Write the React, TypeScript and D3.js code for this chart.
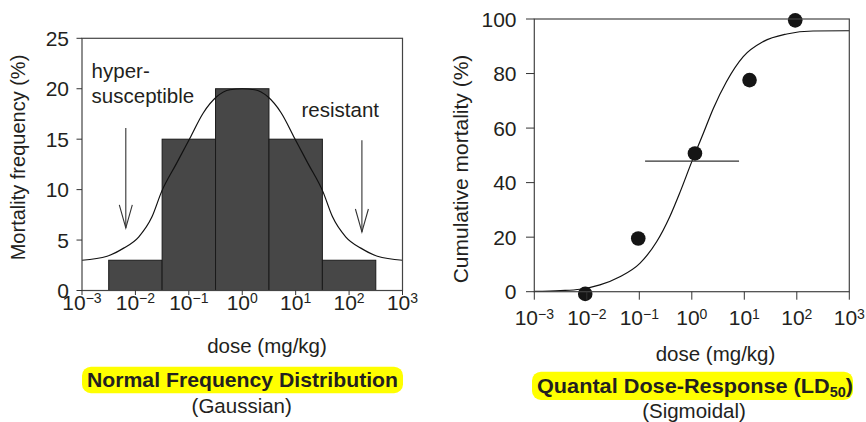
import React from 'react';
import * as d3 from 'd3';

// shared dose axis (log10 of mg/kg)
const decades = [-3, -2, -1, 0, 1, 2, 3];

// left: frequency histogram + gaussian curve
const binEdges = [-2.5, -1.5, -0.5, 0.5, 1.5, 2.5];
const binFreq = [3, 15, 20, 15, 3];
const gaussLog = [-3, -2.53, -2.22, -1.94, -1.69, -1.51, -1.23, -0.98, -0.73, -0.48, -0.23, 0,
  0.23, 0.48, 0.73, 0.98, 1.23, 1.51, 1.69, 1.94, 2.22, 2.53, 3];
const gaussVal = [3.0, 3.4, 4.2, 5.3, 7.3, 9.8, 12.6, 15.1, 17.6, 19.2, 19.9, 20,
  19.9, 19.2, 17.6, 15.1, 12.6, 9.8, 7.3, 5.3, 4.2, 3.4, 3.0];
const freqTicks = [0, 5, 10, 15, 20, 25];

// right: quantal dose-response
const doseLog = [-2.03, -1.02, 0.06, 1.1, 1.97];
const mortality = [-0.8, 19.5, 50.7, 77.6, 99.5];
const sigLog = [-3, -2.5, -2.13, -1.75, -1.37, -0.99, -0.67, -0.42, -0.22, 0, 0.22, 0.41, 0.66, 0.98, 1.36, 1.81, 2.31, 3];
const sigVal = [0.1, 0.4, 0.9, 2.5, 5.5, 10.4, 18.3, 27.5, 36.7, 47.7, 58.1, 67.2, 77, 86.2, 91.7, 94.5, 95.6, 95.7];
const mortTicks = [0, 20, 40, 60, 80, 100];
const ld50Span = [-0.89, 0.9];
const ld50Level = 47.9;

const FONT = '"Liberation Sans", Arial, Helvetica, sans-serif';
const INK = '#231f20';

const pow = (v: number) => Math.pow(10, v);
const supLabel = (d: number) => (d < 0 ? '\u2212' + -d : String(d));

export default function App() {
  // left panel scales
  const xL = d3.scaleLog().domain([1e-3, 1e3]).range([82, 402.5]);
  const yL = d3.scaleLinear().domain([0, 25]).range([290.5, 38.3]);
  // right panel scales
  const xR = d3.scaleLog().domain([1e-3, 1e3]).range([534.3, 849.3]);
  const yR = d3.scaleLinear().domain([0, 100]).range([291.7, 19]);

  const gaussLine = d3.line<number>()
    .x((d) => xL(pow(d)))
    .y((_, i) => yL(gaussVal[i]))
    .curve(d3.curveMonotoneX);

  const sigLine = d3.line<number>()
    .x((d) => xR(pow(d)))
    .y((_, i) => yR(sigVal[i]))
    .curve(d3.curveMonotoneX);

  const arrow = (lx: number, from: number, to: number) => {
    const ax = xL(pow(lx));
    const y0 = yL(from);
    const y1 = yL(to);
    return (
      <g stroke="#333" strokeWidth={1.1} fill="none">
        <line x1={ax} x2={ax} y1={y0} y2={y1} />
        <path d={`M${ax - 6.5},${y1 - 23}L${ax},${y1}L${ax + 6.5},${y1 - 23}`} />
      </g>
    );
  };

  return (
    <div style={{ position: 'absolute', left: 0, top: 0 }}>
      <svg width={866} height={422} style={{ display: 'block', background: '#fff' }} fontFamily={FONT} fill={INK}>
        {/* ---------- left panel ---------- */}
        <g>
          {binFreq.map((f, i) => (
            <rect key={i}
              x={xL(pow(binEdges[i]))} y={yL(f)}
              width={xL(pow(binEdges[i + 1])) - xL(pow(binEdges[i]))}
              height={yL(0) - yL(f)}
              fill="#474747" stroke="#1a1a1a" strokeWidth={1} />
          ))}
          <path d={gaussLine(gaussLog) || ''} fill="none" stroke="#111" strokeWidth={1.2} />
          <rect x={82} y={yL(25)} width={402.5 - 82} height={yL(0) - yL(25)} fill="none" stroke="#444" strokeWidth={1.2} />
          {freqTicks.map((t) => (
            <g key={t}>
              <line x1={76.5} x2={82} y1={yL(t)} y2={yL(t)} stroke="#333" />
              <text x={69} y={yL(t)} dy="0.36em" textAnchor="end" fontSize={21}>{t}</text>
            </g>
          ))}
          {decades.map((d) => (
            <g key={d}>
              <line x1={xL(pow(d))} x2={xL(pow(d))} y1={yL(0)} y2={yL(0) + 4.5} stroke="#333" />
              <text x={xL(pow(d))} y={309.5} textAnchor="middle" fontSize={21}>
                10<tspan dy={-6.5} fontSize={14}>{supLabel(d)}</tspan>
              </text>
            </g>
          ))}
          <text transform="translate(24.5,157.5) rotate(-90)" textAnchor="middle" fontSize={20}>Mortality frequency (%)</text>
          <text x={xL(pow(-2.82))} y={yL(21.1)} fontSize={20.5}>hyper-</text>
          <text x={xL(pow(-2.82))} y={yL(18.6)} fontSize={20.5}>susceptible</text>
          <text x={xL(pow(1.11))} y={yL(17.2)} fontSize={20.5}>resistant</text>
          {arrow(-2.18, 16.1, 6.2)}
          {arrow(2.24, 14.9, 5.8)}
          <text x={267} y={353} textAnchor="middle" fontSize={20.5}>dose (mg/kg)</text>
          <rect x={82} y={366.7} width={321} height={26.5} rx={9} fill="#ffff00" />
          <text x={242.5} y={387} textAnchor="middle" fontSize={21} fontWeight="bold"
            textLength={311} lengthAdjust="spacingAndGlyphs">Normal Frequency Distribution</text>
          <text x={241.7} y={413} textAnchor="middle" fontSize={20.5}>(Gaussian)</text>
        </g>

        {/* ---------- right panel ---------- */}
        <g>
          <path d={sigLine(sigLog) || ''} fill="none" stroke="#111" strokeWidth={1.2} />
          <line x1={xR(pow(ld50Span[0]))} x2={xR(pow(ld50Span[1]))} y1={yR(ld50Level)} y2={yR(ld50Level)} stroke="#333" strokeWidth={1.3} />
          {doseLog.map((d, i) => (
            <circle key={i} cx={xR(pow(d))} cy={yR(mortality[i])} r={7.3} fill="#151515" />
          ))}
          <rect x={534.3} y={yR(100)} width={849.3 - 534.3} height={yR(0) - yR(100)} fill="none" stroke="#444" strokeWidth={1.2} />
          {mortTicks.map((t) => (
            <g key={t}>
              <line x1={526} x2={534.3} y1={yR(t)} y2={yR(t)} stroke="#333" />
              <text x={516.5} y={yR(t)} dy="0.36em" textAnchor="end" fontSize={21}>{t}</text>
            </g>
          ))}
          {decades.map((d) => (
            <g key={d}>
              <line x1={xR(pow(d))} x2={xR(pow(d))} y1={yR(0)} y2={yR(0) + 8} stroke="#333" />
              <text x={xR(pow(d))} y={325} textAnchor="middle" fontSize={21}>
                10<tspan dy={-6.5} fontSize={14}>{supLabel(d)}</tspan>
              </text>
            </g>
          ))}
          <text transform="translate(467.5,169) rotate(-90)" textAnchor="middle" fontSize={21}>Cumulative mortality (%)</text>
          <text x={715.5} y={361} textAnchor="middle" fontSize={20.5}>dose (mg/kg)</text>
          <rect x={532} y={371.7} width={321} height={28.3} rx={9} fill="#ffff00" />
          <text x={695} y={393} textAnchor="middle" fontSize={21} fontWeight="bold"
            textLength={316} lengthAdjust="spacingAndGlyphs">
            Quantal Dose-Response (LD<tspan dy={4} fontSize={14}>50</tspan><tspan dy={-4}>)</tspan>
          </text>
          <text x={694} y={418} textAnchor="middle" fontSize={20.5}>(Sigmoidal)</text>
        </g>
      </svg>
    </div>
  );
}
